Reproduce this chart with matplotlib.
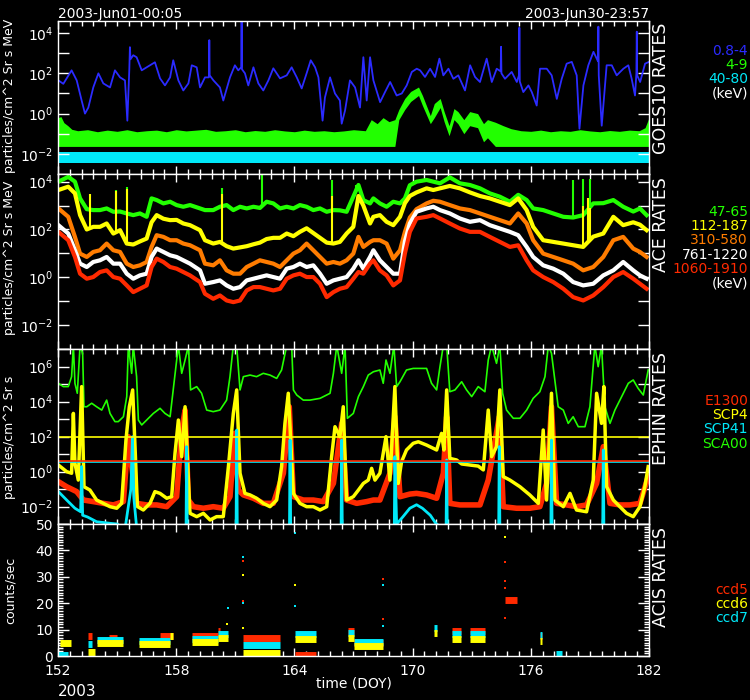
import numpy as np
import matplotlib
matplotlib.use("Agg")
import matplotlib.pyplot as plt
from matplotlib.ticker import FixedLocator, MultipleLocator, NullLocator, FuncFormatter

plt.rcParams['font.family'] = ['DejaVu Sans']
plt.rcParams['mathtext.fontset'] = 'dejavusans'

BLUE = '#2b2bff'
GREEN = '#22ff00'
CYAN = '#00e8f8'
YELLOW = '#ffff00'
ORANGE = '#ff7c00'
RED = '#ff2a00'
WHITE = 'white'

# ---- GOES10 (log10 of rate) ----
goes_blue_days = [152.02, 152.27, 152.69, 152.95, 153.20, 153.37, 153.54, 153.79, 154.05, 154.30,
                  154.64, 154.89, 155.15, 155.40, 155.52, 155.62, 155.65, 155.68, 155.82, 155.99,
                  156.25, 156.50, 156.92, 157.18, 157.43, 157.69, 157.85, 158.11, 158.36, 158.62,
                  158.79, 159.04, 159.21, 159.46, 159.66, 159.68, 159.70, 159.89, 160.22, 160.39,
                  160.73, 160.98, 161.15, 161.30, 161.32, 161.34, 161.49, 161.66, 161.92, 162.17,
                  162.42, 162.68, 162.93, 163.27, 163.61, 163.86, 164.12, 164.37, 164.62, 164.83,
                  165.05, 165.22, 165.43, 165.55, 165.81, 166.06, 166.31, 166.40, 166.57, 166.82,
                  167.08, 167.33, 167.50, 167.67, 167.84, 168.01, 168.35, 168.60, 168.86, 169.19,
                  169.45, 169.70, 169.96, 170.21, 170.38, 170.63, 170.89, 171.14, 171.36, 171.56,
                  171.82, 172.07, 172.32, 172.66, 172.92, 173.17, 173.42, 173.76, 174.02, 174.27,
                  174.47, 174.49, 174.51, 174.69, 175.03, 175.29, 175.40, 175.42, 175.44, 175.62,
                  175.88, 176.05, 176.30, 176.47, 176.81, 177.06, 177.32, 177.57, 177.82, 178.08,
                  178.33, 178.47, 178.67, 178.92, 179.18, 179.41, 179.43, 179.45, 179.60, 179.85,
                  180.11, 180.36, 180.70, 180.95, 181.12, 181.29, 181.36, 181.38, 181.40, 181.55,
                  181.80, 182.00]
goes_blue_log = [1.65, 1.48, 2.15, 1.65, 0.65, 0.0, 0.3, 1.3, 2.0, 1.5,
                 1.3, 2.15, 1.8, 1.65, -0.35, 2.2, 3.3, 2.7, 2.9, 2.8,
                 2.15, 2.3, 2.55, 1.75, 1.4, 1.8, 2.65, 1.65, 1.15, 1.5,
                 2.4, 2.3, 1.3, 1.8, 1.8, 3.65, 1.9, 1.65, 1.3, 0.65,
                 1.8, 2.4, 2.15, 2.3, 4.55, 2.2, 2.0, 1.4, 2.3, 1.5,
                 1.15, 1.65, 2.25, 1.75, 1.9, 2.3, 1.8, 1.25, 2.0, 2.65,
                 2.3, 1.8, -0.35, 0.8, 1.8, 1.0, 0.65, -0.5, 0.15, 1.65,
                 1.3, 0.3, 2.8, 0.65, 2.8, 1.65, 0.57, 1.07, 1.57, 0.9,
                 1.0, 1.4, 2.07, 2.23, 2.15, 1.82, 2.23, 1.82, 2.73, 1.9,
                 2.23, 1.73, 1.9, 1.15, 2.4, 1.82, 1.57, 2.73, 1.57, 2.23,
                 2.1, 3.32, 2.0, 1.73, 2.07, 1.57, 1.9, 4.27, 1.6, 1.07,
                 1.4, 1.07, 0.4, 2.23, 2.23, 1.9, 0.73, 1.73, 2.48, 2.57,
                 1.9, -0.75, 1.4, 2.4, 3.07, 2.6, 4.32, 1.9, -0.6, 2.4,
                 2.4, 1.9, 2.23, 2.4, 1.73, 0.9, 2.0, 4.07, 1.9, 1.57,
                 2.48, 2.57]

goes_green_days = [152.0, 152.15, 152.3, 152.5, 152.7, 153.0, 153.5, 154.0, 154.5, 155.0,
                   155.5, 156.0, 156.5, 157.0, 157.5, 158.0, 158.5, 159.0, 159.5, 160.0,
                   160.5, 161.0, 161.5, 162.0, 162.5, 163.0, 163.5, 164.0, 164.5, 165.0,
                   165.5, 166.0, 166.5, 167.0, 167.6, 167.9, 168.2, 168.5, 168.8, 169.1,
                   169.3, 169.6, 169.9, 170.3, 170.5, 170.9, 171.1, 171.4, 171.6, 171.85,
                   172.1, 172.3, 172.6, 172.9, 173.3, 173.6, 173.8, 174.2, 174.6, 175.0,
                   175.5, 176.0, 176.5, 177.0, 177.5, 178.0, 178.5, 179.0, 179.5, 180.0,
                   180.5, 181.0, 181.5, 181.8, 181.9, 182.0]
goes_green_hi = [-0.2, -0.15, -0.45, -0.6, -0.78, -0.85, -0.8, -0.9, -0.82, -0.88,
                 -0.8, -0.9, -0.85, -0.82, -0.9, -0.8, -0.86, -0.82, -0.78, -0.88,
                 -0.85, -0.8, -0.9, -0.84, -0.88, -0.8, -0.86, -0.9, -0.82, -0.88,
                 -0.85, -0.9, -0.86, -0.8, -0.85, -0.3, -0.5, -0.2, -0.4, -0.3,
                 0.2, 0.75, 1.1, 1.32, 0.9, -0.1, 0.5, 0.75, 0.1, -0.6,
                 0.25, 0.1, -0.3, 0.1, 0.0, -0.5, -0.3, -0.43, -0.6, -0.75,
                 -0.85, -0.88, -0.82, -0.9, -0.85, -0.88, -0.8, -0.86, -0.9, -0.84,
                 -0.88, -0.82, -0.85, -0.7, -0.45, -0.2]
goes_green_lo = [-1.63] * 40 + [-0.3, 0.2, 0.6, 0.9, 0.4, -0.5, -0.2, 0.3, -0.4, -1.1,
                                -0.3, -0.5, -1.0, -0.6, -0.7, -1.4, -1.2] + [-1.63] * 19

goes_cyan_days = [152.0, 182.0]
goes_cyan_hi = [-1.93, -1.93]
goes_cyan_lo = [-2.45, -2.45]

# ---- ACE (log10 of rate) ----
ace_days = [152.02, 152.52, 152.86, 153.12, 153.46, 153.79, 154.13, 154.47, 154.81, 155.15,
            155.49, 155.82, 156.16, 156.50, 156.75, 157.01, 157.35, 157.69, 158.02, 158.36,
            158.70, 159.21, 159.46, 159.88, 160.22, 160.56, 160.90, 161.24, 161.58, 161.92,
            162.25, 162.59, 162.93, 163.27, 163.61, 163.95, 164.28, 164.62, 164.96, 165.30,
            165.64, 165.98, 166.31, 166.65, 166.99, 167.25, 167.50, 167.84, 168.01,
            168.34, 168.68, 169.02, 169.36, 169.61, 169.86, 170.20, 170.71, 171.05, 171.39,
            171.89, 172.40, 172.91, 173.42, 173.92, 174.43, 174.94, 175.36, 175.79, 176.12,
            176.63, 177.14, 177.65, 178.15, 178.66, 179.17, 179.68, 180.19, 180.69, 181.20,
            181.54, 181.88]
ace_47_65 = [4.0, 4.2, 4.0, 3.3, 2.85, 2.81, 2.81, 2.88, 2.74, 2.75,
             2.67, 2.6, 2.67, 2.53, 3.3, 3.23, 3.09, 3.16, 3.02, 2.95,
             3.02, 2.88, 2.81, 2.81, 2.95, 3.02, 2.81, 2.95, 2.88, 2.95,
             2.9, 3.16, 3.09, 2.88, 2.95, 2.88, 3.02, 2.95, 2.81, 2.88,
             2.74, 2.81, 2.8, 2.74, 3.37, 3.86, 3.23, 3.09, 3.3,
             3.09, 2.95, 3.16, 3.09, 3.3, 3.85, 4.0, 4.07, 4.0, 3.93,
             4.18, 3.93, 3.86, 3.72, 3.51, 3.37, 3.16, 3.45, 3.23, 2.88,
             2.81, 2.67, 2.53, 2.5, 2.6, 3.09, 3.1, 3.23, 2.95, 2.75,
             2.88, 2.6]
ace_112_187 = [3.65, 3.79, 3.51, 2.6, 2.0, 2.11, 2.11, 2.25, 1.83, 1.97,
               1.41, 1.37, 1.5, 1.62, 2.3, 2.6, 2.45, 2.39, 2.4, 2.25,
               2.18, 1.97, 1.55, 1.41, 1.48, 1.3, 1.2, 1.25, 1.3, 1.38,
               1.45, 1.6, 1.65, 1.65, 1.83, 1.72, 1.9, 2.05, 1.85, 1.65,
               1.45, 1.41, 1.48, 1.83, 2.11, 3.4, 3.0, 2.25, 2.53,
               2.6, 2.32, 2.18, 2.53, 3.1, 3.4, 3.55, 3.72, 3.65, 3.72,
               3.82, 3.72, 3.55, 3.4, 3.3, 3.16, 3.02, 3.3, 2.81, 2.11,
               1.55, 1.48, 1.41, 1.34, 1.27, 1.7, 1.83, 2.53, 2.18, 2.3,
               2.2, 1.97]
ace_310_580 = [2.88, 2.53, 1.69, 0.99, 0.85, 1.06, 1.13, 1.41, 1.13, 1.06,
               0.57, 0.43, 0.5, 0.64, 1.27, 1.76, 1.69, 1.55, 1.55, 1.41,
               1.34, 1.13, 0.57, 0.5, 0.71, 0.29, 0.15, 0.15, 0.43, 0.57,
               0.71, 0.64, 0.57, 0.43, 0.71, 0.99, 1.13, 1.41, 1.13, 0.85,
               0.57, 0.64, 0.57, 0.71, 0.99, 1.69, 1.27, 1.48, 1.55,
               1.55, 1.41, 0.78, 1.13, 1.9, 2.5, 2.85, 3.09, 3.2, 3.16,
               3.02, 2.88, 2.81, 2.67, 2.53, 2.39, 2.25, 2.67, 2.25, 1.55,
               0.99, 0.85, 0.71, 0.57, 0.29, 0.43, 0.85, 1.55, 1.69, 1.2,
               1.06, 0.85]
ace_761_1220 = [2.18, 1.83, 1.13, 0.57, 0.43, 0.64, 0.71, 0.85, 0.57, 0.57,
                0.15, -0.06, 0.08, 0.15, 0.85, 1.2, 1.06, 0.92, 0.85, 0.71,
                0.57, 0.29, -0.27, -0.2, -0.13, -0.34, -0.48, -0.41, -0.13, -0.06,
                0.01, 0.08, 0.01, -0.06, 0.36, 0.43, 0.57, 0.43, 0.5, 0.15,
                -0.27, -0.13, -0.06, 0.01, 0.36, 0.71, 0.36, 0.85, 1.13,
                0.71, 0.43, 0.15, 0.15, 1.5, 2.25, 2.74, 2.88, 2.95, 2.81,
                2.67, 2.46, 2.32, 2.39, 2.18, 2.04, 1.9, 1.76, 1.27, 0.85,
                0.5, 0.36, 0.15, -0.2, -0.34, -0.27, 0.08, 0.29, 0.64, 0.29,
                0.08, -0.06]
ace_1060_1910 = [1.9, 1.55, 0.85, 0.15, -0.06, 0.01, 0.22, 0.29, 0.01, -0.06,
                 -0.34, -0.62, -0.48, -0.34, 0.43, 0.78, 0.64, 0.43, 0.36, 0.22,
                 0.08, -0.2, -0.69, -0.9, -0.76, -0.97, -1.04, -0.97, -0.55, -0.41,
                 -0.41, -0.48, -0.55, -0.48, -0.06, 0.08, 0.15, 0.01, 0.01, -0.27,
                 -0.83, -0.62, -0.48, -0.41, -0.06, 0.22, 0.15, 0.57, 0.71,
                 0.29, 0.08, -0.34, -0.13, 1.0, 1.9, 2.46, 2.53, 2.6, 2.46,
                 2.25, 2.04, 1.9, 1.9, 1.69, 1.48, 1.27, 1.34, 0.71, 0.29,
                 0.01, -0.2, -0.48, -0.83, -0.97, -0.76, -0.41, 0.01, 0.22, -0.06,
                 -0.27, -0.48]
ace_green_spike_days = [154.93, 155.49, 160.31, 162.34, 165.89, 167.13, 178.15, 178.66, 179.0]
ace_green_spike_top = [3.65, 3.79, 3.72, 4.28, 4.07, 3.86, 4.07, 4.1, 4.1]
ace_yellow_spike_days = [153.62, 154.96, 155.52, 160.31, 165.89, 178.66, 178.9, 179.0]
ace_yellow_spike_top = [3.5, 3.6, 3.7, 3.5, 3.4, 3.0, 3.3, 2.9]

# ---- EPHIN (log10 of rate) ----
eph_green_days = [152.02, 152.27, 152.52, 152.69, 152.78, 152.86, 152.98, 153.12, 153.25, 153.32,
                  153.46, 153.71, 153.96, 154.22, 154.47, 154.64, 154.89, 155.06, 155.32, 155.49,
                  155.57, 155.74, 155.82, 155.99, 156.08, 156.25, 156.50, 156.84, 157.18, 157.43,
                  157.69, 157.85, 158.11, 158.28, 158.45, 158.62, 158.73, 159.04, 159.29, 159.55,
                  159.88, 160.22, 160.56, 160.73, 160.90, 161.07, 161.24, 161.41, 161.75, 162.08,
                  162.42, 162.76, 163.10, 163.35, 163.61, 163.86, 163.95, 164.12, 164.45, 164.79,
                  165.30, 165.81, 165.98, 166.15, 166.40, 166.57, 166.69, 166.99, 167.25, 167.50,
                  167.75, 168.01,
                  168.34, 168.51, 168.65, 168.85, 169.05, 169.19, 169.36, 169.69, 170.03, 170.71,
                  170.96, 171.22, 171.39, 171.56, 171.73, 171.89, 172.15, 172.49, 172.74, 173.00,
                  173.33, 173.67, 173.84, 174.01, 174.26, 174.43, 174.57, 174.77, 175.11, 175.45,
                  175.79, 176.12, 176.46, 176.72, 176.89, 177.05, 177.22, 177.39, 177.65, 177.90,
                  178.15, 178.41, 178.75, 179.00, 179.25, 179.42, 179.59, 179.76, 180.02, 180.27,
                  180.61, 180.95, 181.20, 181.45, 181.71, 181.96]
eph_green_log = [5.04, 4.85, 4.85, 5.42, 7.2, 5.04, 4.47, 7.2, 6.75, 3.7,
                 3.7, 3.9, 3.7, 3.51, 4.08, 3.32, 2.85, 2.85, 3.13, 4.28,
                 7.2, 5.61, 7.2, 5.42, 2.94, 2.66, 2.94, 3.32, 3.61, 3.32,
                 3.13, 4.66, 7.2, 5.61, 6.37, 7.2, 4.66, 4.85, 4.47, 3.51,
                 3.42, 3.51, 4.08, 5.42, 7.2, 7.2, 4.66, 5.42, 5.51, 5.42,
                 5.61, 5.51, 5.32, 5.8, 7.2, 7.2, 4.66, 4.37, 4.08, 4.08,
                 4.18, 4.47, 5.61, 7.2, 5.61, 7.2, 3.04, 3.32, 4.28, 4.85,
                 5.51, 5.7,
                 5.8, 5.04, 6.37, 5.61, 7.2, 4.85, 5.13, 5.8, 5.89, 5.89,
                 5.04, 4.66, 5.99, 7.2, 7.2, 4.56, 4.66, 5.13, 4.66, 4.28,
                 4.85, 4.56, 6.37, 7.2, 6.18, 7.2, 4.47, 3.51, 3.04, 3.04,
                 3.51, 4.18, 4.56, 5.42, 7.2, 6.75, 5.23, 3.7, 3.51, 2.75,
                 3.13, 2.56, 2.56, 3.7, 7.2, 5.99, 7.2, 3.7, 2.75, 3.51,
                 4.28, 5.04, 5.23, 4.75, 4.37, 5.8]

eph_yellow_days = [152.02, 152.44, 152.69, 152.78, 152.86, 153.03, 153.20, 153.32, 153.62, 153.96,
                   154.30, 154.64, 154.98, 155.23, 155.45, 155.62, 155.79, 155.91, 156.03, 156.33,
                   156.67, 156.92, 157.18, 157.52, 157.77, 157.94, 158.11, 158.28, 158.45, 158.62,
                   158.70, 159.04, 159.38, 159.72, 160.05, 160.39, 160.65, 160.90, 161.07, 161.24,
                   161.49, 161.75, 162.08, 162.42, 162.76, 163.10, 163.35, 163.52, 163.69, 163.95,
                   164.28, 164.62, 164.96, 165.30, 165.64, 165.89, 166.06, 166.31, 166.48, 166.65,
                   166.99, 167.25, 167.50, 167.75, 167.92, 168.09,
                   168.34, 168.65, 168.85, 169.10, 169.27, 169.44, 169.69, 170.03, 170.29, 170.71,
                   171.22, 171.47, 171.59, 171.73, 171.89, 172.23, 172.49, 172.91, 173.33, 173.59,
                   173.84, 174.01, 174.26, 174.43, 174.60, 174.94, 175.45, 175.95, 176.38, 176.63,
                   176.80, 177.05, 177.22, 177.65, 177.99, 178.32, 178.83, 179.17, 179.34, 179.59,
                   179.71, 179.85, 180.19, 180.52, 180.86, 181.20, 181.54, 181.79, 181.96]
eph_yellow_log = [0.37, -0.01, -0.1, 3.32, 0.47, -0.49, 4.85, -0.87, -1.06, -1.63,
                  -1.82, -2.01, -2.1, -1.82, 1.8, 3.7, 4.66, 1.42, -2.0, -2.2,
                  -1.82, -1.15, -1.25, -1.53, -1.44, 1.04, 2.94, 0.85, 3.7, -0.49,
                  -2.39, -2.58, -2.39, -2.77, -2.58, -2.58, 0.28, 3.32, 4.66, -0.1,
                  -1.25, -1.34, -1.53, -1.82, -2.01, -1.63, 0.28, 2.75, 4.47, -1.25,
                  -1.82, -2.01, -2.01, -2.2, -2.01, 0.85, 2.56, 1.99, 3.7, -1.63,
                  -1.44, -1.06, -0.68, -0.49, 0.18, -0.49,
                  -0.1, 1.99, -0.49, 4.85, -0.68, 0.56, 1.23, 1.61, 1.70, 1.51,
                  1.23, 2.18, 1.23, 4.66, 0.75, 0.66, 0.43, 0.37, 0.31, 0.09,
                  3.51, 0.85, 1.42, 4.66, -0.29, -0.49, -0.87, -1.34, -1.82, 2.37,
                  -1.63, 4.47, -1.63, -2.01, -1.25, -2.2, -2.3, -0.49, 4.47, 2.75,
                  4.85, -0.87, -1.63, -2.01, -2.39, -2.58, -2.01, -0.87, 0.28]

eph_red_days = [152.02, 152.44, 152.95, 153.29, 153.79, 154.30, 154.81, 155.32, 155.57, 155.74,
                155.99, 156.50, 157.01, 157.52, 158.02, 158.28, 158.45, 158.62, 158.87, 159.38,
                159.88, 160.39, 160.73, 160.98, 161.15, 161.41, 161.92, 162.42, 162.93, 163.44,
                163.74, 163.95, 164.45, 164.96, 165.47, 165.98, 166.40, 166.65, 167.16, 167.67,
                168.01,
                168.34, 168.85, 169.10, 169.36, 169.86, 170.20, 170.71, 171.22, 171.56, 171.73,
                171.89, 172.40, 172.91, 173.42, 173.84, 174.40, 174.60, 175.28, 175.95, 176.46,
                176.80, 177.05, 177.31, 177.82, 178.32, 178.83, 179.34, 179.68, 180.02, 180.52,
                181.03, 181.54, 181.96]
eph_red_log = [-0.58, -0.87, -1.15, -1.63, -1.72, -1.82, -1.91, -1.72, 1.99, 0.28,
               -1.82, -1.91, -1.91, -2.01, -1.44, 2.37, 3.51, -1.63, -2.01, -2.1,
               -2.01, -2.1, -1.44, 2.18, -1.06, -1.34, -1.53, -1.82, -1.82, -0.1,
               3.7, -1.44, -1.63, -1.63, -1.72, -0.68, 2.75, -1.63, -1.82, -1.72,
               -1.63,
               -1.63, -0.1, 3.13, -1.44, -1.29, -1.25, -1.34, -1.53, -0.1, 3.13,
               -1.82, -1.91, -1.91, -1.91, -0.49, 3.13, -2.01, -2.1, -2.1, -2.01,
               -0.68, 3.7, -1.82, -1.91, -2.01, -1.91, -0.68, 1.42, -1.82, -1.91,
               -1.91, -1.82, -0.29]

eph_cyan_days = [152.02, 152.44, 152.86, 153.15, 153.20, 153.25, 153.50, 153.96, 154.64, 155.00,
                 155.40, 155.70, 155.78, 155.85, 156.00, 158.50, 158.53, 158.56, 161.04, 161.07,
                 161.10, 163.75, 163.78, 163.81, 166.37, 166.40, 166.43, 169.07, 169.10, 169.19,
                 169.50, 169.86, 170.20, 170.50, 170.90, 171.20, 171.70, 171.73, 171.76, 174.37,
                 174.40, 174.43, 177.02, 177.05, 177.08, 179.65, 179.68, 179.71, 182.00]
eph_cyan_log = [-1.15, -1.63, -2.1, -2.3, 0.28, -2.5, -2.6, -2.87, -2.96, -3.0,
                -3.3, -1.0, 1.99, -1.5, -3.3, -3.3, 1.42, -3.3, -3.3, 2.37,
                -3.3, -3.3, 1.8, -3.3, -3.3, 1.8, -3.3, -3.3, 0.85, -3.0,
                -2.6, -2.1, -1.9, -2.1, -2.5, -3.0, -3.3, 0.66, -3.3, -3.3,
                1.42, -3.3, -3.3, 1.8, -3.3, -3.3, 1.23, -3.3, -3.3]

eph_limit_yellow = 100.0
eph_limit_red = 3.9
eph_limit_cyan = 3.3

# ---- ACIS (counts/sec), flat runs: start day, end day, level ----
ccd5_start = [153.50, 154.60, 157.20, 158.80, 160.10, 161.40, 164.05, 166.70, 167.00, 172.02, 172.90, 174.69, 176.47]
ccd5_end = [153.75, 155.00, 157.85, 160.10, 160.20, 163.27, 165.10, 167.00, 168.50, 172.44, 173.68, 175.29, 176.56]
ccd5_val = [7.5, 7.0, 7.6, 7.6, 9.5, 7.0, 0.3, 9.5, 4.8, 9.4, 9.4, 21.4, 7.5]
ccd6_start = [152.10, 153.50, 153.96, 156.10, 157.70, 158.80, 160.10, 161.40, 164.05, 166.70, 167.00, 171.09, 172.02, 172.90, 176.47]
ccd6_end = [152.65, 153.90, 155.30, 157.70, 157.85, 160.10, 160.65, 163.27, 165.10, 167.00, 168.50, 171.22, 172.44, 173.68, 176.56]
ccd6_val = [5.0, 1.5, 5.0, 4.4, 7.5, 5.3, 7.0, 1.3, 6.5, 7.0, 3.8, 8.8, 6.3, 6.5, 5.5]
ccd7_start = [152.00, 153.50, 153.96, 156.10, 158.80, 160.10, 161.40, 164.05, 166.70, 167.00, 171.09, 172.02, 172.90, 176.47, 177.30]
ccd7_end = [152.50, 153.75, 155.30, 157.70, 160.10, 160.65, 163.27, 165.10, 167.00, 168.50, 171.22, 172.44, 173.68, 176.56, 177.60]
ccd7_val = [0.3, 4.5, 6.0, 5.8, 6.5, 8.5, 4.1, 8.3, 8.8, 5.3, 10.5, 8.2, 8.2, 8.0, 0.6]
ccd5_pt_days = [161.40, 161.40, 168.50, 168.50, 174.69, 174.69, 174.69, 174.69]
ccd5_pt_vals = [36.0, 20.7, 29.0, 13.9, 28.4, 25.9, 14.5, 35.5]
ccd6_pt_days = [161.40, 161.40, 164.05, 174.69, 160.60]
ccd6_pt_vals = [30.5, 10.5, 27.0, 45.0, 12.0]
ccd7_pt_days = [161.40, 161.40, 164.05, 164.05, 168.50, 168.50, 160.65]
ccd7_pt_vals = [37.5, 20.0, 46.5, 19.0, 26.8, 11.4, 18.0]

doy_ticks = [152, 158, 164, 170, 176, 182]

# ---- layout ----
W, H = 750, 700
fig = plt.figure(figsize=(W / 100, H / 100), dpi=100, facecolor='black')


def panel(top, bottom):
    return fig.add_axes([58 / W, 1 - bottom / H, (649 - 58) / W, (bottom - top) / H])


def style(ax, xlabels=False):
    ax.set_facecolor('black')
    for s in ax.spines.values():
        s.set_color('white')
        s.set_linewidth(1)
    ax.set_xlim(152, 182)
    ax.xaxis.set_major_locator(FixedLocator(doy_ticks))
    ax.xaxis.set_minor_locator(FixedLocator(np.arange(152, 182.01, 0.6)))
    ax.tick_params(axis='x', which='major', direction='in', top=True, bottom=True,
                   length=6, width=1, color='white', labelcolor='white', labelsize=10,
                   labelbottom=xlabels, pad=6)
    ax.tick_params(axis='x', which='minor', direction='in', top=True, bottom=True,
                   length=3.5, width=1, color='white')
    ax.tick_params(axis='y', which='major', direction='in', left=True, right=True,
                   length=8, width=1, color='white', labelcolor='white', labelsize=10)
    ax.tick_params(axis='y', which='minor', direction='in', left=True, right=True,
                   length=3.5, width=1, color='white')


def log_axis(ax, top):
    ax.set_yscale('log')
    ax.set_ylim(1e-3, top)
    ax.yaxis.set_major_locator(FixedLocator(10.0 ** np.arange(-3, 8)))
    ax.yaxis.set_minor_locator(NullLocator())
    ax.yaxis.set_major_formatter(FuncFormatter(
        lambda v, p: r'$10^{%d}$' % round(np.log10(v)) if round(np.log10(v)) % 2 == 0 else ''))


ax1 = panel(21, 174)
ax2 = panel(174, 349)
ax3 = panel(349, 524)
ax4 = panel(524, 656)
for a in (ax1, ax2, ax3):
    style(a)
style(ax4, xlabels=True)
log_axis(ax1, 10 ** 4.6)
log_axis(ax2, 10 ** 4.32)
log_axis(ax3, 1e7)

p = lambda v: 10.0 ** np.asarray(v)

# GOES
ax1.fill_between(goes_cyan_days, p(goes_cyan_lo), p(goes_cyan_hi), color=CYAN, lw=0)
ax1.fill_between(goes_green_days, p(goes_green_lo), p(goes_green_hi), color=GREEN, lw=0)
ax1.plot(goes_blue_days, p(goes_blue_log), color=BLUE, lw=1.3)

# ACE
for vals, col in [(ace_47_65, GREEN), (ace_112_187, YELLOW), (ace_310_580, ORANGE),
                  (ace_761_1220, WHITE), (ace_1060_1910, RED)]:
    ax2.plot(ace_days, p(vals), color=col, lw=3)
ax2.vlines(ace_green_spike_days, p(np.interp(ace_green_spike_days, ace_days, ace_47_65)),
           p(ace_green_spike_top), color=GREEN, lw=1.5)
ax2.vlines(ace_yellow_spike_days, p(np.interp(ace_yellow_spike_days, ace_days, ace_112_187)),
           p(ace_yellow_spike_top), color=YELLOW, lw=1.5)

# EPHIN
ax3.plot(eph_green_days, p(eph_green_log), color=GREEN, lw=1.2)
ax3.plot(eph_red_days, p(eph_red_log), color=RED, lw=4)
ax3.plot(eph_yellow_days, p(eph_yellow_log), color=YELLOW, lw=2.5)
ax3.plot(eph_cyan_days, p(eph_cyan_log), color=CYAN, lw=2)
ax3.axhline(eph_limit_yellow, color=YELLOW, lw=1.2)
ax3.axhline(eph_limit_cyan, color=CYAN, lw=1.2)
ax3.axhline(eph_limit_red, color=RED, lw=1.2)

# ACIS
ax4.set_ylim(0, 50)
ax4.yaxis.set_major_locator(MultipleLocator(10))
ax4.yaxis.set_minor_locator(MultipleLocator(1))
ax4.hlines(ccd5_val, ccd5_start, ccd5_end, color=RED, lw=5)
ax4.hlines(ccd7_val, ccd7_start, ccd7_end, color=CYAN, lw=5)
ax4.hlines(ccd6_val, ccd6_start, ccd6_end, color=YELLOW, lw=5)
ax4.scatter(ccd5_pt_days, ccd5_pt_vals, s=3, marker='s', color=RED, lw=0)
ax4.scatter(ccd6_pt_days, ccd6_pt_vals, s=3, marker='s', color=YELLOW, lw=0)
ax4.scatter(ccd7_pt_days, ccd7_pt_vals, s=3, marker='s', color=CYAN, lw=0)
ax4.set_xlabel('time (DOY)', color='white', fontsize=10, labelpad=-1)

# texts
fs = 10
fig.text(58 / W, 1 - 14 / H, '2003-Jun01-00:05', color='white', fontsize=fs, ha='left', va='center')
fig.text(649 / W, 1 - 14 / H, '2003-Jun30-23:57', color='white', fontsize=fs, ha='right', va='center')
fig.text(58 / W, 1 - 692 / H, '2003', color='white', fontsize=11, ha='left', va='center')

ylab = [('particles/cm^2 Sr s MeV', 96), ('particles/cm^2 Sr s MeV', 258),
        ('particles/cm^2 Sr s', 437), ('counts/sec', 590)]
for txt, yc in ylab:
    fig.text(10 / W, 1 - yc / H, txt, color='white', fontsize=9.0, rotation=90, ha='center', va='center')

side = [('GOES10 RATES', 23), ('ACE RATES', 177), ('EPHIN RATES', 352), ('ACIS RATES', 527)]
for txt, yt in side:
    fig.text(652 / W, 1 - yt / H, txt, color='white', fontsize=12.5, rotation=90, ha='left', va='top')

legends = [
    [('0.8-4', BLUE), ('4-9', GREEN), ('40-80', CYAN), ('(keV)', WHITE)],
    [('47-65', GREEN), ('112-187', YELLOW), ('310-580', ORANGE), ('761-1220', WHITE),
     ('1060-1910', RED), ('(keV)', WHITE)],
    [('E1300', RED), ('SCP4', YELLOW), ('SCP41', CYAN), ('SCA00', GREEN)],
    [('ccd5', RED), ('ccd6', YELLOW), ('ccd7', CYAN)],
]
leg_top = [51, 212, 401, 590]
for entries, y0 in zip(legends, leg_top):
    for i, (txt, col) in enumerate(entries):
        fig.text(748 / W, 1 - (y0 + 14.2 * i) / H, txt, color=col, fontsize=fs, ha='right', va='center')

fig.savefig('out.png', dpi=100, facecolor='black')
